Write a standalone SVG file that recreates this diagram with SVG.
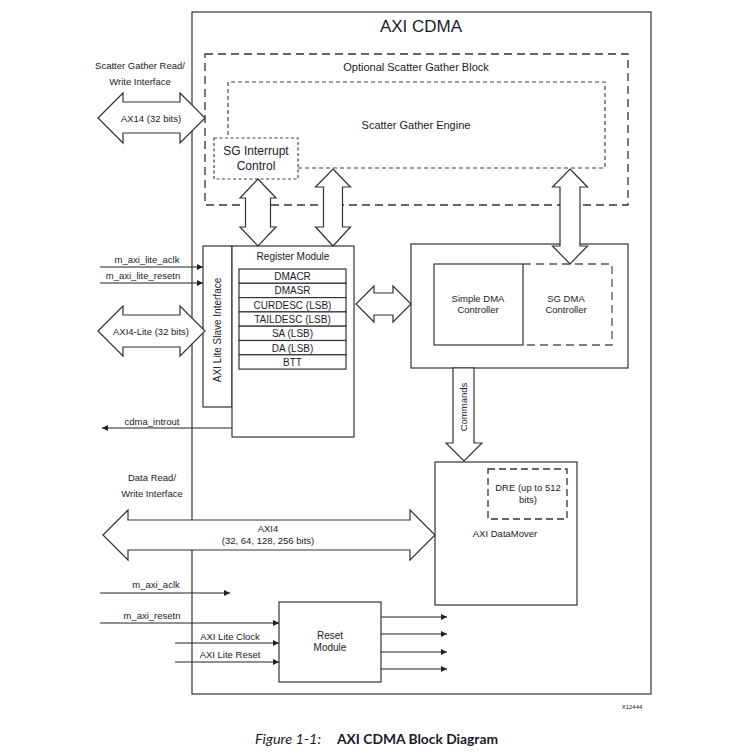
<svg xmlns="http://www.w3.org/2000/svg" width="738" height="755" viewBox="0 0 738 755">
<defs>
<marker id="ah" viewBox="0 0 10 10" refX="10" refY="5" markerWidth="8" markerHeight="6" markerUnits="userSpaceOnUse" orient="auto">
<path d="M0,0 L10,5 L0,10 z" fill="#222"/>
</marker>
<style>
.box{fill:#fff;stroke:#333;stroke-width:1.2}
.nofill{fill:none;stroke:#333;stroke-width:1.2}
.dl{fill:none;stroke:#333;stroke-width:1.3;stroke-dasharray:8 5}
.ds{fill:none;stroke:#444;stroke-width:1.2;stroke-dasharray:4 3}
.arr{fill:#fff;stroke:#333;stroke-width:1.2;stroke-linejoin:miter}
.sig{fill:none;stroke:#222;stroke-width:1.1;marker-end:url(#ah)}
text{font-family:"Liberation Sans",Arial,sans-serif;fill:#1a1a2a;text-anchor:middle}
.s{font-size:9.5px}
.m{font-size:10px}
.l{font-size:11px}
</style>
</defs>
<rect width="738" height="755" fill="#fff"/>

<g id="axi-cdma">
<rect class="box" x="192" y="12" width="459" height="682"/>
<text x="421" y="32" style="font-size:17px">AXI CDMA</text>
</g>

<g id="sg-block">
<rect class="dl" x="205" y="54" width="423" height="151"/>
<text class="l" x="416" y="71">Optional Scatter Gather Block</text>
</g>

<g id="sg-engine">
<path class="ds" d="M298,168 H605 V82 H228 V138"/>
<text class="l" x="416" y="129">Scatter Gather Engine</text>
</g>

<g id="sg-interrupt">
<rect class="ds" x="214" y="138" width="84" height="41" style="stroke-dasharray:3 2.5"/>
<text x="256" y="155" style="font-size:12px">SG Interrupt</text>
<text x="256" y="170" style="font-size:12px">Control</text>
</g>

<g id="axi-lite-slave">
<rect class="box" x="203" y="246" width="29" height="161"/>
<text class="m" transform="translate(220.5,330) rotate(-90)">AXI Lite Slave Interface</text>
</g>

<g id="register-module">
<rect class="box" x="232" y="246" width="122" height="191"/>
<text class="m" x="293" y="260">Register Module</text>
<rect class="box" x="239" y="269" width="107" height="14.3"/>
<rect class="box" x="239" y="283.3" width="107" height="14.3"/>
<rect class="box" x="239" y="297.6" width="107" height="14.3"/>
<rect class="box" x="239" y="311.9" width="107" height="14.3"/>
<rect class="box" x="239" y="326.2" width="107" height="14.3"/>
<rect class="box" x="239" y="340.5" width="107" height="14.3"/>
<rect class="box" x="239" y="354.8" width="107" height="14.3"/>
<text class="m" x="292.5" y="280">DMACR</text>
<text class="m" x="292.5" y="294.3">DMASR</text>
<text class="m" x="292.5" y="308.6">CURDESC (LSB)</text>
<text class="m" x="292.5" y="322.9">TAILDESC (LSB)</text>
<text class="m" x="292.5" y="337.2">SA (LSB)</text>
<text class="m" x="292.5" y="351.5">DA (LSB)</text>
<text class="m" x="292.5" y="365.8">BTT</text>
</g>

<g id="dma-controller">
<rect class="box" x="411" y="244" width="217" height="124"/>
<rect class="box" x="434" y="264" width="89" height="81"/>
<path class="dl" d="M523,264 H612 V345 H523" style="stroke:#555"/>
<text class="s" x="478" y="302">Simple DMA</text>
<text class="s" x="478" y="313">Controller</text>
<text class="s" x="566" y="302">SG DMA</text>
<text class="s" x="566" y="313">Controller</text>
</g>

<g id="datamover">
<rect class="box" x="435" y="462" width="142" height="143"/>
<rect class="dl" x="488" y="469" width="79" height="50" style="stroke-dasharray:7 4"/>
<text class="s" x="528" y="491">DRE (up to 512</text>
<text class="s" x="528" y="503">bits)</text>
<text class="s" x="505" y="537">AXI DataMover</text>
</g>

<g id="reset-module">
<rect class="box" x="279" y="602" width="102" height="80"/>
<text class="m" x="330" y="639">Reset</text>
<text class="m" x="330" y="651">Module</text>
</g>

<g id="connectors">
<polygon class="arr" points="98,118 123,93 123,102 180,102 180,93 205,118 180,143 180,133 123,133 123,143"/>
<polygon class="arr" points="98,331 123,306 123,315 180,315 180,306 205,331 180,356 180,347 123,347 123,356"/>
<polygon class="arr" points="258,179 276,198 270.5,198 270.5,227 276,227 258,246 240,227 245.5,227 245.5,198 240,198"/>
<polygon class="arr" points="333,169 350.5,187 342.5,187 342.5,227 350.5,227 333,246 315.5,227 323.5,227 323.5,187 315.5,187"/>
<polygon class="arr" points="570,169 587.5,187 580,187 580,246 587.5,246 570,264 552.5,246 560,246 560,187 552.5,187"/>
<polygon class="arr" points="356,304 374,286 374,293 393,293 393,286 411,304 393,322 393,315 374,315 374,322"/>
<polygon class="arr" points="453,368 474,368 474,443 482,443 464,461 446,443 453,443"/>
<polygon class="arr" points="103,535 128,510 128,520 410,520 410,510 435,535 410,560 410,550 128,550 128,560"/>

<line class="sig" x1="100" y1="267" x2="203" y2="267"/>
<line class="sig" x1="100" y1="283" x2="203" y2="283"/>
<line class="sig" x1="232" y1="428" x2="102" y2="428"/>
<line class="sig" x1="100" y1="593" x2="230" y2="593"/>
<line class="sig" x1="100" y1="623" x2="279" y2="623"/>
<line class="sig" x1="175" y1="643" x2="279" y2="643"/>
<line class="sig" x1="175" y1="662" x2="279" y2="662"/>
<line class="sig" x1="381" y1="617" x2="447" y2="617"/>
<line class="sig" x1="381" y1="634" x2="447" y2="634"/>
<line class="sig" x1="381" y1="652" x2="447" y2="652"/>
<line class="sig" x1="381" y1="669" x2="447" y2="669"/>
</g>

<g id="labels">
<text class="s" x="140" y="69">Scatter Gather Read/</text>
<text class="s" x="140" y="85">Write Interface</text>
<text class="s" x="151" y="121.5">AX14 (32 bits)</text>
<text class="s" x="147" y="263">m_axi_lite_aclk</text>
<text class="s" x="143" y="279">m_axi_lite_resetn</text>
<text class="s" x="151" y="334.5">AXI4-Lite (32 bits)</text>
<text class="s" x="152" y="425">cdma_introut</text>
<text class="s" transform="translate(466.5,407) rotate(-90)">Commands</text>
<text class="s" x="152" y="481">Data Read/</text>
<text class="s" x="152" y="497">Write Interface</text>
<text class="s" x="268" y="532">AXI4</text>
<text class="s" x="268" y="544">(32, 64, 128, 256 bits)</text>
<text class="s" x="156" y="588">m_axi_aclk</text>
<text class="s" x="152" y="619">m_axi_resetn</text>
<text class="s" x="230" y="640">AXI Lite Clock</text>
<text class="s" x="230" y="658">AXI Lite Reset</text>
<text x="632" y="709" style="font-size:6px">X12444</text>
</g>

<g id="caption">
<text x="255" y="744" style="font-family:Lato,'Open Sans',sans-serif;font-size:14px;font-style:italic;text-anchor:start" textLength="66" lengthAdjust="spacingAndGlyphs">Figure 1-1:</text>
<text x="337" y="744" style="font-family:Lato,'Open Sans',sans-serif;font-size:14px;font-weight:bold;text-anchor:start" textLength="161" lengthAdjust="spacingAndGlyphs">AXI CDMA Block Diagram</text>
</g>
</svg>
